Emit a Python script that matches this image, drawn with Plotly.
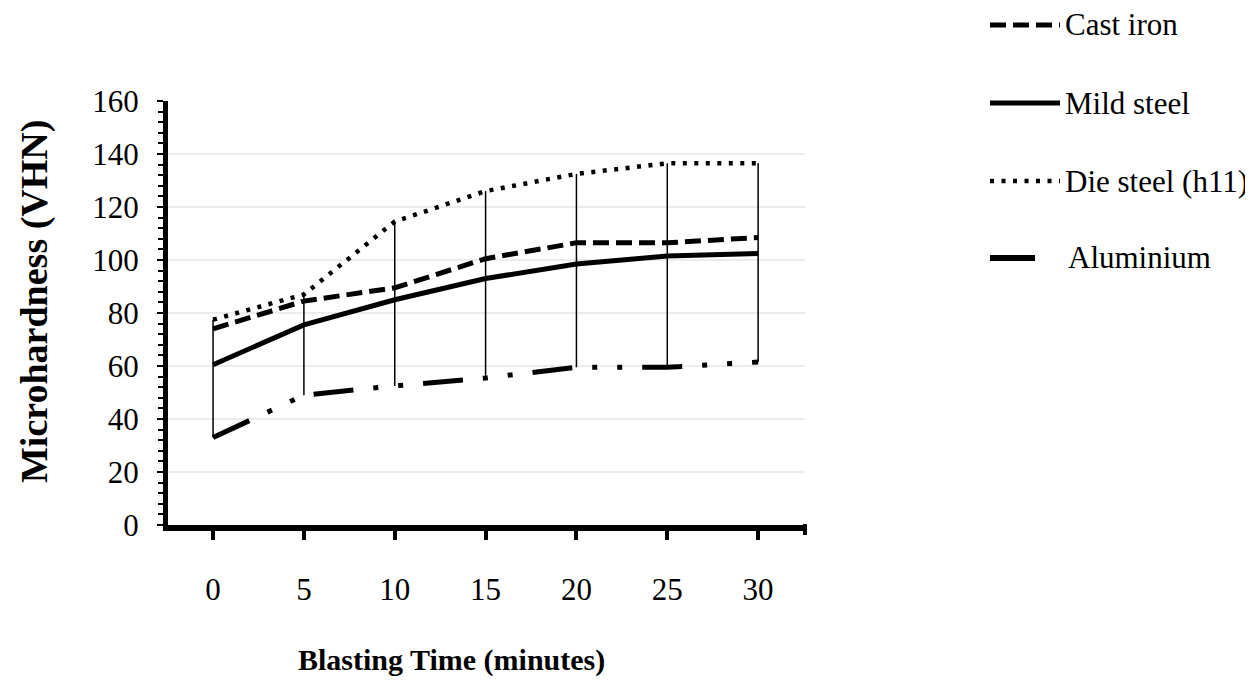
import plotly.graph_objects as go

blasting_time = [0, 5, 10, 15, 20, 25, 30]
cast_iron = [74, 84.5, 89.5, 100.5, 106.5, 106.5, 108.5]
mild_steel = [60.5, 75.5, 85, 93, 98.5, 101.5, 102.5]
die_steel = [77.5, 87, 114.5, 126, 132.5, 136.5, 136.5]
aluminium = [33, 49, 52.5, 55.5, 59.5, 59.5, 61.5]

y_ticks = [0, 20, 40, 60, 80, 100, 120, 140, 160]
x_ticks = [0, 5, 10, 15, 20, 25, 30]

FONT = "Liberation Serif"
OFF = 8  # page body margin

# high-low lines built from series extremes
hl_x, hl_y = [], []
for i, t in enumerate(blasting_time):
    vals = [cast_iron[i], mild_steel[i], die_steel[i], aluminium[i]]
    hl_x += [t, t, None]
    hl_y += [min(vals), max(vals), None]

fig = go.Figure()
fig.add_trace(go.Scatter(x=hl_x, y=hl_y, mode="lines",
                         line=dict(color="black", width=1.5),
                         showlegend=False, hoverinfo="skip"))
fig.add_trace(go.Scatter(x=blasting_time, y=aluminium, mode="lines", name="Aluminium",
                         line=dict(color="black", width=5,
                                   dash="40px,20px,5px,20px,5px,20px")))
fig.add_trace(go.Scatter(x=blasting_time, y=mild_steel, mode="lines", name="Mild steel",
                         line=dict(color="black", width=5)))
fig.add_trace(go.Scatter(x=blasting_time, y=cast_iron, mode="lines", name="Cast iron",
                         line=dict(color="black", width=5, dash="16px,7px")))
fig.add_trace(go.Scatter(x=blasting_time, y=die_steel, mode="lines", name="Die steel (h11)",
                         line=dict(color="black", width=4.5, dash="4px,7.5px")))

W, H = 1253, 684
L, R, T, B = 168, 805, 101, 525
pw, ph = R - L, B - T

def px(x):
    return (x - L) / pw

def py(y):
    return (B - y) / ph

legend_items = [
    ("Cast iron", 25, "16px,7px", 5, 990, 1060, 1063),
    ("Mild steel", 103, "solid", 5, 990, 1060, 1063),
    ("Die steel (h11)", 181, "4px,7.5px", 4.5, 990, 1060, 1063),
    ("Aluminium", 258, "solid", 6, 990, 1035, 1066),
]
shapes = []
annotations = []
for name, yy, dash, w, x0, x1, xt in legend_items:
    shapes.append(dict(type="line", xref="paper", yref="paper",
                       x0=px(x0), x1=px(x1), y0=py(yy), y1=py(yy),
                       line=dict(color="black", width=w, dash=dash)))
    annotations.append(dict(text=name, xref="paper", yref="paper",
                            x=px(xt), y=py(yy), xanchor="left", yanchor="middle",
                            showarrow=False, font=dict(family=FONT, size=31, color="black")))

shapes.append(dict(type="line", xref="paper", yref="paper", x0=1.0, x1=1.0,
                   y0=py(524), y1=py(535), line=dict(color="black", width=4)))

annotations.append(dict(text="<b>Blasting Time (minutes)</b>", xref="paper", yref="paper",
                        x=px(451), y=py(660), xanchor="center", yanchor="middle",
                        showarrow=False, font=dict(family=FONT, size=30, color="black")))
annotations.append(dict(text="<b>Microhardness (VHN)</b>", xref="paper", yref="paper",
                        x=px(34), y=py(302), xanchor="center", yanchor="middle",
                        textangle=-90, showarrow=False,
                        font=dict(family=FONT, size=38, color="black")))

fig.update_layout(
    width=W, height=H,
    margin=dict(l=L - OFF, r=W - R + OFF, t=T - OFF, b=H - B + OFF),
    paper_bgcolor="white", plot_bgcolor="white",
    showlegend=False,
    shapes=shapes, annotations=annotations,
    font=dict(family=FONT, color="black"),
)
fig.update_xaxes(range=[-2.48, 32.58], tickvals=x_ticks, ticktext=[str(v) for v in x_ticks],
                 showgrid=False, zeroline=False, showline=True, linecolor="black", linewidth=6,
                 ticks="outside", ticklen=9, tickwidth=4, tickcolor="black",
                 ticklabelstandoff=23, tickfont=dict(family=FONT, size=31, color="black"))
fig.update_yaxes(range=[0, 160], tickvals=y_ticks, showgrid=True, gridcolor="#ececec", gridwidth=2,
                 zeroline=False, showline=True, linecolor="black", linewidth=5,
                 ticks="outside", ticklen=6, tickwidth=2, tickcolor="black",
                 minor=dict(dtick=4, ticks="outside", ticklen=5, tickwidth=1.5, tickcolor="black",
                            showgrid=False),
                 ticklabelstandoff=12, tickfont=dict(family=FONT, size=31, color="black"))

fig.write_html("out.html")
